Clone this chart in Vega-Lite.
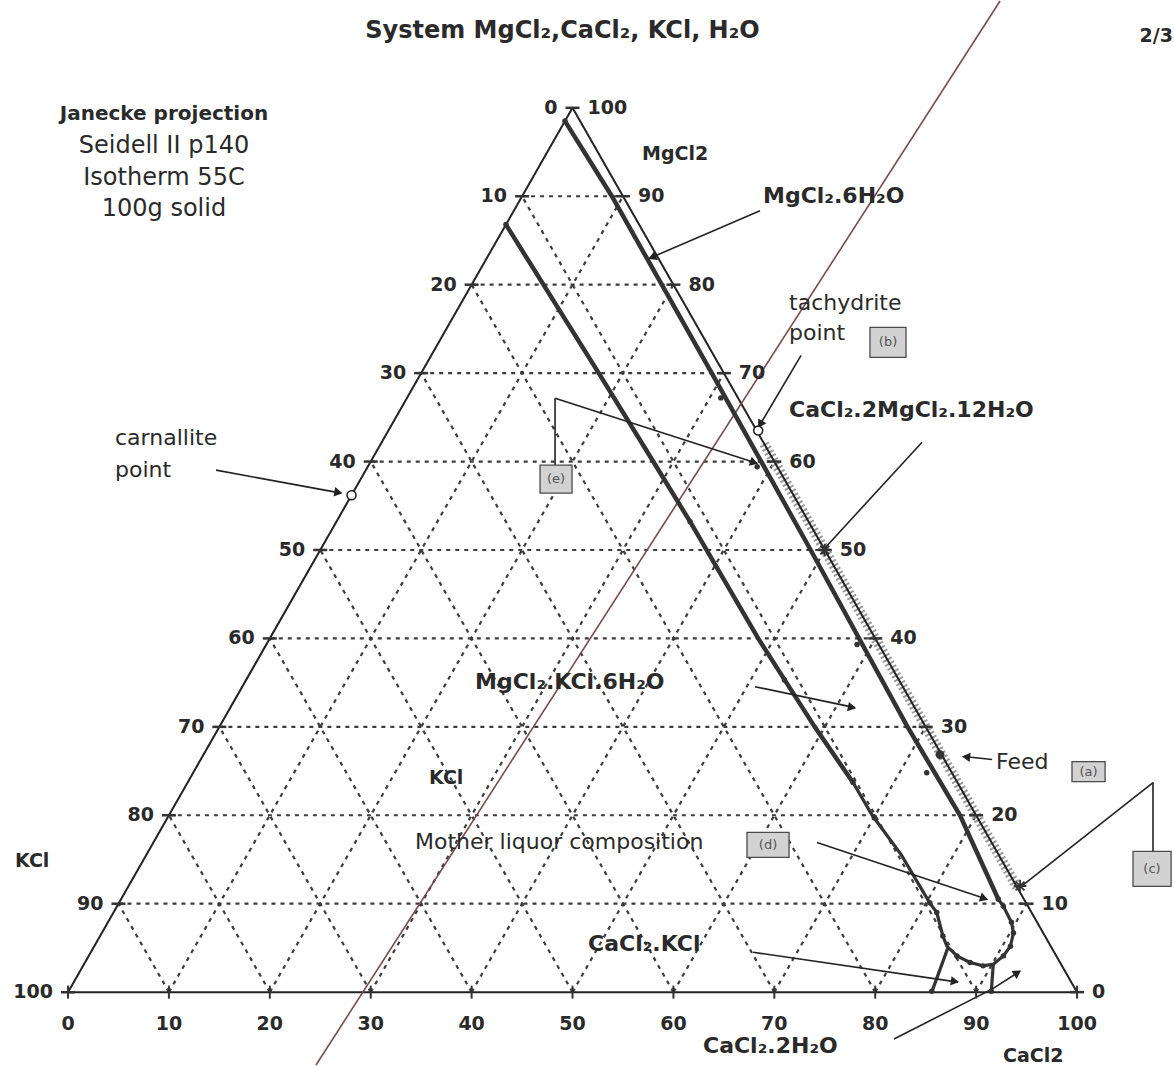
{
  "$schema": "https://vega.github.io/schema/vega-lite/v6.json",
  "width": 1174,
  "height": 1066,
  "autosize": {"type": "fit", "contains": "padding"},
  "padding": 0,
  "background": "white",
  "config": {"view": {"stroke": null}, "text": {"font": "DejaVu Sans", "color": "#2a2a2a"}},
  "encoding": {
    "x": {"field": "x", "type": "quantitative", "scale": {"domain": [-6.74, 109.61], "nice": false, "zero": false}, "axis": null},
    "y": {"field": "y", "type": "quantitative", "scale": {"domain": [-8.24, 112.08], "nice": false, "zero": false}, "axis": null}
  },
  "layer": [
    {
      "data": {"values": [
        {"x": 5, "y": 10, "x2": 95, "y2": 10}, {"x": 10, "y": 20, "x2": 90, "y2": 20}, {"x": 15, "y": 30, "x2": 85, "y2": 30},
        {"x": 20, "y": 40, "x2": 80, "y2": 40}, {"x": 25, "y": 50, "x2": 75, "y2": 50}, {"x": 30, "y": 60, "x2": 70, "y2": 60},
        {"x": 35, "y": 70, "x2": 65, "y2": 70}, {"x": 40, "y": 80, "x2": 60, "y2": 80}, {"x": 45, "y": 90, "x2": 55, "y2": 90},
        {"x": 10, "y": 0, "x2": 55, "y2": 90}, {"x": 20, "y": 0, "x2": 60, "y2": 80}, {"x": 30, "y": 0, "x2": 65, "y2": 70},
        {"x": 40, "y": 0, "x2": 70, "y2": 60}, {"x": 50, "y": 0, "x2": 75, "y2": 50}, {"x": 60, "y": 0, "x2": 80, "y2": 40},
        {"x": 70, "y": 0, "x2": 85, "y2": 30}, {"x": 80, "y": 0, "x2": 90, "y2": 20}, {"x": 90, "y": 0, "x2": 95, "y2": 10},
        {"x": 10, "y": 0, "x2": 5, "y2": 10}, {"x": 20, "y": 0, "x2": 10, "y2": 20}, {"x": 30, "y": 0, "x2": 15, "y2": 30},
        {"x": 40, "y": 0, "x2": 20, "y2": 40}, {"x": 50, "y": 0, "x2": 25, "y2": 50}, {"x": 60, "y": 0, "x2": 30, "y2": 60},
        {"x": 70, "y": 0, "x2": 35, "y2": 70}, {"x": 80, "y": 0, "x2": 40, "y2": 80}, {"x": 90, "y": 0, "x2": 45, "y2": 90}
      ]},
      "mark": {"type": "rule", "strokeDash": [4, 5], "strokeWidth": 2.2, "color": "#3c3c3c"},
      "encoding": {"x2": {"field": "x2"}, "y2": {"field": "y2"}}
    },
    {
      "data": {"values": [{"x": 69.0, "y": 62.0, "x2": 94.2, "y2": 11.6}]},
      "mark": {"type": "rule", "strokeDash": [2, 2.5], "strokeWidth": 10, "color": "#999999"},
      "encoding": {"x2": {"field": "x2"}, "y2": {"field": "y2"}}
    },
    {
      "data": {"values": [
        {"x": 0, "y": 0, "x2": 50, "y2": 100},
        {"x": 50, "y": 100, "x2": 100, "y2": 0},
        {"x": 0, "y": 0, "x2": 100, "y2": 0}
      ]},
      "mark": {"type": "rule", "strokeWidth": 2, "color": "#222"},
      "encoding": {"x2": {"field": "x2"}, "y2": {"field": "y2"}}
    },
    {
      "data": {"values": [{"x": 92.37, "y": 112.08, "x2": 24.58, "y2": -8.24}]},
      "mark": {"type": "rule", "strokeWidth": 1.6, "color": "#7b4b4b"},
      "encoding": {"x2": {"field": "x2"}, "y2": {"field": "y2"}}
    },
    {
      "data": {"values": [
        {"id": "t1", "o": 1, "x": 49.25, "y": 98.5}, {"id": "t1", "o": 2, "x": 53.9, "y": 90}, {"id": "t1", "o": 3, "x": 63.8, "y": 70},
        {"id": "t1", "o": 4, "x": 73.6, "y": 50}, {"id": "t1", "o": 5, "x": 83.2, "y": 30}, {"id": "t1", "o": 6, "x": 88.4, "y": 20},
        {"id": "t1", "o": 7, "x": 92.2, "y": 10.5},
        {"id": "t2", "o": 1, "x": 43.4, "y": 86.8}, {"id": "t2", "o": 2, "x": 52.6, "y": 70}, {"id": "t2", "o": 3, "x": 58.0, "y": 60},
        {"id": "t2", "o": 4, "x": 61.65, "y": 53.2}, {"id": "t2", "o": 5, "x": 68.4, "y": 40}, {"id": "t2", "o": 6, "x": 74.0, "y": 30},
        {"id": "t2", "o": 7, "x": 77.8, "y": 23.7}
      ]},
      "mark": {"type": "line", "strokeWidth": 4.5, "color": "#333"},
      "encoding": {"detail": {"field": "id"}, "order": {"field": "o"}}
    },
    {
      "data": {"values": [
        {"id": "t3", "o": 1, "x": 77.8, "y": 23.7}, {"id": "t3", "o": 2, "x": 79.7, "y": 20}, {"id": "t3", "o": 3, "x": 82.6, "y": 15.5},
        {"id": "t3", "o": 4, "x": 85.4, "y": 10.1}, {"id": "t3", "o": 5, "x": 86.1, "y": 9.0}, {"id": "t3", "o": 6, "x": 86.7, "y": 6.35},
        {"id": "t3", "o": 7, "x": 87.1, "y": 5.2}, {"id": "t3", "o": 8, "x": 88.1, "y": 4.1}, {"id": "t3", "o": 9, "x": 89.4, "y": 3.35},
        {"id": "t3", "o": 10, "x": 90.7, "y": 2.97}, {"id": "t3", "o": 11, "x": 91.7, "y": 3.16}, {"id": "t3", "o": 12, "x": 92.7, "y": 4.1},
        {"id": "t3", "o": 13, "x": 93.4, "y": 5.2}, {"id": "t3", "o": 14, "x": 93.7, "y": 6.7}, {"id": "t3", "o": 15, "x": 93.5, "y": 7.9},
        {"id": "t3", "o": 16, "x": 92.7, "y": 9.7}, {"id": "t3", "o": 17, "x": 92.2, "y": 10.5},
        {"id": "s1", "o": 1, "x": 87.2, "y": 5.0}, {"id": "s1", "o": 2, "x": 85.6, "y": 0},
        {"id": "s2", "o": 1, "x": 91.7, "y": 3.2}, {"id": "s2", "o": 2, "x": 91.5, "y": 0}
      ]},
      "mark": {"type": "line", "strokeWidth": 3.2, "color": "#333"},
      "encoding": {"detail": {"field": "id"}, "order": {"field": "o"}}
    },
    {
      "data": {"values": [
        {"x": 68.58, "y": 88.37, "x2": 57.58, "y2": 82.96},
        {"x": 72.65, "y": 72.01, "x2": 68.6, "y2": 64.2},
        {"x": 84.64, "y": 62.19, "x2": 75.02, "y2": 50.23},
        {"x": 48.27, "y": 59.59, "x2": 48.27, "y2": 67.16},
        {"x": 48.27, "y": 67.16, "x2": 68.29, "y2": 59.82},
        {"x": 14.67, "y": 59.03, "x2": 27.06, "y2": 56.43},
        {"x": 68.09, "y": 34.54, "x2": 78.0, "y2": 32.17},
        {"x": 91.58, "y": 26.3, "x2": 88.8, "y2": 26.64},
        {"x": 107.53, "y": 15.91, "x2": 107.53, "y2": 23.7},
        {"x": 107.53, "y": 23.7, "x2": 94.35, "y2": 11.85},
        {"x": 74.23, "y": 16.93, "x2": 91.08, "y2": 10.5},
        {"x": 67.89, "y": 4.51, "x2": 88.21, "y2": 1.13},
        {"x": 81.86, "y": -5.3, "x2": 91.58, "y2": 0.34},
        {"x": 91.58, "y": 0.34, "x2": 94.35, "y2": 2.37}
      ]},
      "mark": {"type": "rule", "strokeWidth": 1.6, "color": "#222"},
      "encoding": {"x2": {"field": "x2"}, "y2": {"field": "y2"}}
    },
    {
      "data": {"values": [
        {"x": 57.9, "y": 83.1, "a": 156.6}, {"x": 68.6, "y": 64.2, "a": 120.3}, {"x": 68.0, "y": 59.9, "a": 17.8},
        {"x": 26.8, "y": 56.5, "a": 10.4}, {"x": 77.7, "y": 32.2, "a": 11.9}, {"x": 89.0, "y": 26.6, "a": 186.1},
        {"x": 90.8, "y": 10.6, "a": 18.5}, {"x": 87.9, "y": 1.2, "a": 8.3}, {"x": 94.1, "y": 2.2, "a": 327.3}
      ]},
      "mark": {"type": "point", "shape": "triangle-right", "filled": true, "size": 90, "color": "#222", "opacity": 1},
      "encoding": {"angle": {"field": "a", "type": "quantitative", "scale": null}}
    },
    {
      "data": {"values": [
        {"x": 49.25, "y": 98.5}, {"x": 43.4, "y": 86.8}, {"x": 64.7, "y": 67.2}, {"x": 68.3, "y": 59.4}, {"x": 61.65, "y": 53.2},
        {"x": 78.2, "y": 39.3}, {"x": 71.0, "y": 35.3}, {"x": 77.8, "y": 23.7}, {"x": 85.1, "y": 24.8}, {"x": 79.9, "y": 19.8},
        {"x": 85.4, "y": 10.1}, {"x": 86.1, "y": 9.0}, {"x": 86.7, "y": 6.35}, {"x": 88.1, "y": 4.1}, {"x": 89.4, "y": 3.35},
        {"x": 90.7, "y": 2.97}, {"x": 92.7, "y": 4.1}, {"x": 93.4, "y": 5.2}, {"x": 93.7, "y": 6.7}, {"x": 93.5, "y": 7.9},
        {"x": 92.7, "y": 9.7}, {"x": 92.2, "y": 10.5}, {"x": 85.6, "y": 0.1}, {"x": 91.5, "y": 0.1}
      ]},
      "mark": {"type": "point", "shape": "circle", "filled": true, "size": 30, "color": "#333", "opacity": 1}
    },
    {
      "data": {"values": [{"x": 86.42, "y": 26.86}]},
      "mark": {"type": "point", "shape": "circle", "filled": true, "size": 80, "color": "#333", "opacity": 1}
    },
    {
      "data": {"values": [{"x": 28.1, "y": 56.2}, {"x": 68.4, "y": 63.5}]},
      "mark": {"type": "point", "shape": "circle", "filled": true, "fill": "white", "stroke": "#222", "strokeWidth": 1.6, "size": 80, "opacity": 1}
    },
    {
      "data": {"values": [{"x": 75.0, "y": 50.0}, {"x": 94.35, "y": 12.0}]},
      "mark": {"type": "point", "shape": "M-1,0L1,0M0,-1L0,1M-0.7,-0.7L0.7,0.7M-0.7,0.7L0.7,-0.7", "filled": false, "size": 160, "strokeWidth": 1.8, "color": "#333", "opacity": 1}
    },
    {
      "data": {"values": [
        {"x": 45, "y": 90}, {"x": 40, "y": 80}, {"x": 35, "y": 70}, {"x": 30, "y": 60}, {"x": 25, "y": 50},
        {"x": 20, "y": 40}, {"x": 15, "y": 30}, {"x": 10, "y": 20}, {"x": 5, "y": 10}, {"x": 0, "y": 0}, {"x": 50, "y": 100},
        {"x": 55, "y": 90}, {"x": 60, "y": 80}, {"x": 65, "y": 70}, {"x": 70, "y": 60}, {"x": 75, "y": 50},
        {"x": 80, "y": 40}, {"x": 85, "y": 30}, {"x": 90, "y": 20}, {"x": 95, "y": 10}, {"x": 100, "y": 0}
      ]},
      "mark": {"type": "tick", "orient": "horizontal", "size": 14, "thickness": 2.5, "color": "#333", "opacity": 1}
    },
    {
      "data": {"values": [
        {"x": 0, "y": 0}, {"x": 10, "y": 0}, {"x": 20, "y": 0}, {"x": 30, "y": 0}, {"x": 40, "y": 0}, {"x": 50, "y": 0},
        {"x": 60, "y": 0}, {"x": 70, "y": 0}, {"x": 80, "y": 0}, {"x": 90, "y": 0}, {"x": 100, "y": 0}
      ]},
      "mark": {"type": "tick", "orient": "vertical", "size": 13, "thickness": 2, "color": "#333", "opacity": 1}
    },
    {
      "data": {"values": [
        {"x": 50, "y": 100, "t": "0"}, {"x": 45, "y": 90, "t": "10"}, {"x": 40, "y": 80, "t": "20"}, {"x": 35, "y": 70, "t": "30"},
        {"x": 30, "y": 60, "t": "40"}, {"x": 25, "y": 50, "t": "50"}, {"x": 20, "y": 40, "t": "60"}, {"x": 15, "y": 30, "t": "70"},
        {"x": 10, "y": 20, "t": "80"}, {"x": 5, "y": 10, "t": "90"}, {"x": 0, "y": 0, "t": "100"}
      ]},
      "mark": {"type": "text", "align": "right", "baseline": "middle", "dx": -15, "fontSize": 19, "fontWeight": "bold"},
      "encoding": {"text": {"field": "t"}}
    },
    {
      "data": {"values": [
        {"x": 50, "y": 100, "t": "100"}, {"x": 55, "y": 90, "t": "90"}, {"x": 60, "y": 80, "t": "80"}, {"x": 65, "y": 70, "t": "70"},
        {"x": 70, "y": 60, "t": "60"}, {"x": 75, "y": 50, "t": "50"}, {"x": 80, "y": 40, "t": "40"}, {"x": 85, "y": 30, "t": "30"},
        {"x": 90, "y": 20, "t": "20"}, {"x": 95, "y": 10, "t": "10"}, {"x": 100, "y": 0, "t": "0"}
      ]},
      "mark": {"type": "text", "align": "left", "baseline": "middle", "dx": 15, "fontSize": 19, "fontWeight": "bold"},
      "encoding": {"text": {"field": "t"}}
    },
    {
      "data": {"values": [
        {"x": 0, "y": 0, "t": "0"}, {"x": 10, "y": 0, "t": "10"}, {"x": 20, "y": 0, "t": "20"}, {"x": 30, "y": 0, "t": "30"},
        {"x": 40, "y": 0, "t": "40"}, {"x": 50, "y": 0, "t": "50"}, {"x": 60, "y": 0, "t": "60"}, {"x": 70, "y": 0, "t": "70"},
        {"x": 80, "y": 0, "t": "80"}, {"x": 90, "y": 0, "t": "90"}, {"x": 100, "y": 0, "t": "100"}
      ]},
      "mark": {"type": "text", "align": "center", "baseline": "middle", "dy": 32, "fontSize": 19, "fontWeight": "bold"},
      "encoding": {"text": {"field": "t"}}
    },
    {
      "data": {"values": [
        {"x": 99.5, "y": 26.07, "x2": 102.78, "y2": 23.81},
        {"x": 79.48, "y": 75.17, "x2": 83.05, "y2": 71.78},
        {"x": 105.55, "y": 15.91, "x2": 109.32, "y2": 11.96},
        {"x": 67.29, "y": 18.06, "x2": 71.46, "y2": 15.24},
        {"x": 46.78, "y": 59.59, "x2": 49.95, "y2": 56.43}
      ]},
      "mark": {"type": "rect", "fill": "#d2d2d2", "stroke": "#4a4a4a", "strokeWidth": 1.3},
      "encoding": {"x2": {"field": "x2"}, "y2": {"field": "y2"}}
    },
    {
      "data": {"values": [
        {"x": 101.14, "y": 24.94, "t": "(a)"}, {"x": 81.27, "y": 73.48, "t": "(b)"}, {"x": 107.43, "y": 13.94, "t": "(c)"},
        {"x": 69.38, "y": 16.65, "t": "(d)"}, {"x": 48.37, "y": 58.01, "t": "(e)"}
      ]},
      "mark": {"type": "text", "align": "center", "baseline": "middle", "fontSize": 13, "color": "#555"},
      "encoding": {"text": {"field": "t"}}
    },
    {
      "data": {"values": [{"x": 49.0, "y": 108.69, "t": "System MgCl₂,CaCl₂, KCl, H₂O"}]},
      "mark": {"type": "text", "align": "center", "baseline": "middle", "fontSize": 24, "fontWeight": "bold"},
      "encoding": {"text": {"field": "t"}}
    },
    {
      "data": {"values": [{"x": 106.2, "y": 108.13, "t": "2/3"}]},
      "mark": {"type": "text", "align": "left", "baseline": "middle", "fontSize": 19, "fontWeight": "bold"},
      "encoding": {"text": {"field": "t"}}
    },
    {
      "data": {"values": [{"x": 9.51, "y": 99.32, "t": "Janecke projection"}]},
      "mark": {"type": "text", "align": "center", "baseline": "middle", "fontSize": 20, "fontWeight": "bold"},
      "encoding": {"text": {"field": "t"}}
    },
    {
      "data": {"values": [
        {"x": 9.51, "y": 95.71, "t": "Seidell II p140"},
        {"x": 9.51, "y": 92.1, "t": "Isotherm 55C"},
        {"x": 9.51, "y": 88.6, "t": "100g solid"}
      ]},
      "mark": {"type": "text", "align": "center", "baseline": "middle", "fontSize": 24},
      "encoding": {"text": {"field": "t"}}
    },
    {
      "data": {"values": [
        {"x": 68.88, "y": 90.07, "t": "MgCl₂.6H₂O"},
        {"x": 71.46, "y": 65.8, "t": "CaCl₂.2MgCl₂.12H₂O"},
        {"x": 40.34, "y": 35.1, "t": "MgCl₂.KCl.6H₂O"},
        {"x": 51.54, "y": 5.42, "t": "CaCl₂.KCl"},
        {"x": 62.93, "y": -6.09, "t": "CaCl₂.2H₂O"}
      ]},
      "mark": {"type": "text", "align": "left", "baseline": "middle", "fontSize": 22, "fontWeight": "bold"},
      "encoding": {"text": {"field": "t"}}
    },
    {
      "data": {"values": [
        {"x": 56.89, "y": 94.81, "t": "MgCl2"},
        {"x": 35.78, "y": 24.27, "t": "KCl"},
        {"x": 92.67, "y": -7.22, "t": "CaCl2"},
        {"x": -5.25, "y": 14.79, "t": "KCl"}
      ]},
      "mark": {"type": "text", "align": "left", "baseline": "middle", "fontSize": 19, "fontWeight": "bold"},
      "encoding": {"text": {"field": "t"}}
    },
    {
      "data": {"values": [
        {"x": 71.46, "y": 77.88, "t": "tachydrite"},
        {"x": 71.46, "y": 74.49, "t": "point"},
        {"x": 4.66, "y": 62.64, "t": "carnallite"},
        {"x": 4.66, "y": 59.03, "t": "point"},
        {"x": 34.39, "y": 16.93, "t": "Mother liquor composition"},
        {"x": 91.97, "y": 26.07, "t": "Feed"}
      ]},
      "mark": {"type": "text", "align": "left", "baseline": "middle", "fontSize": 22},
      "encoding": {"text": {"field": "t"}}
    }
  ]
}
